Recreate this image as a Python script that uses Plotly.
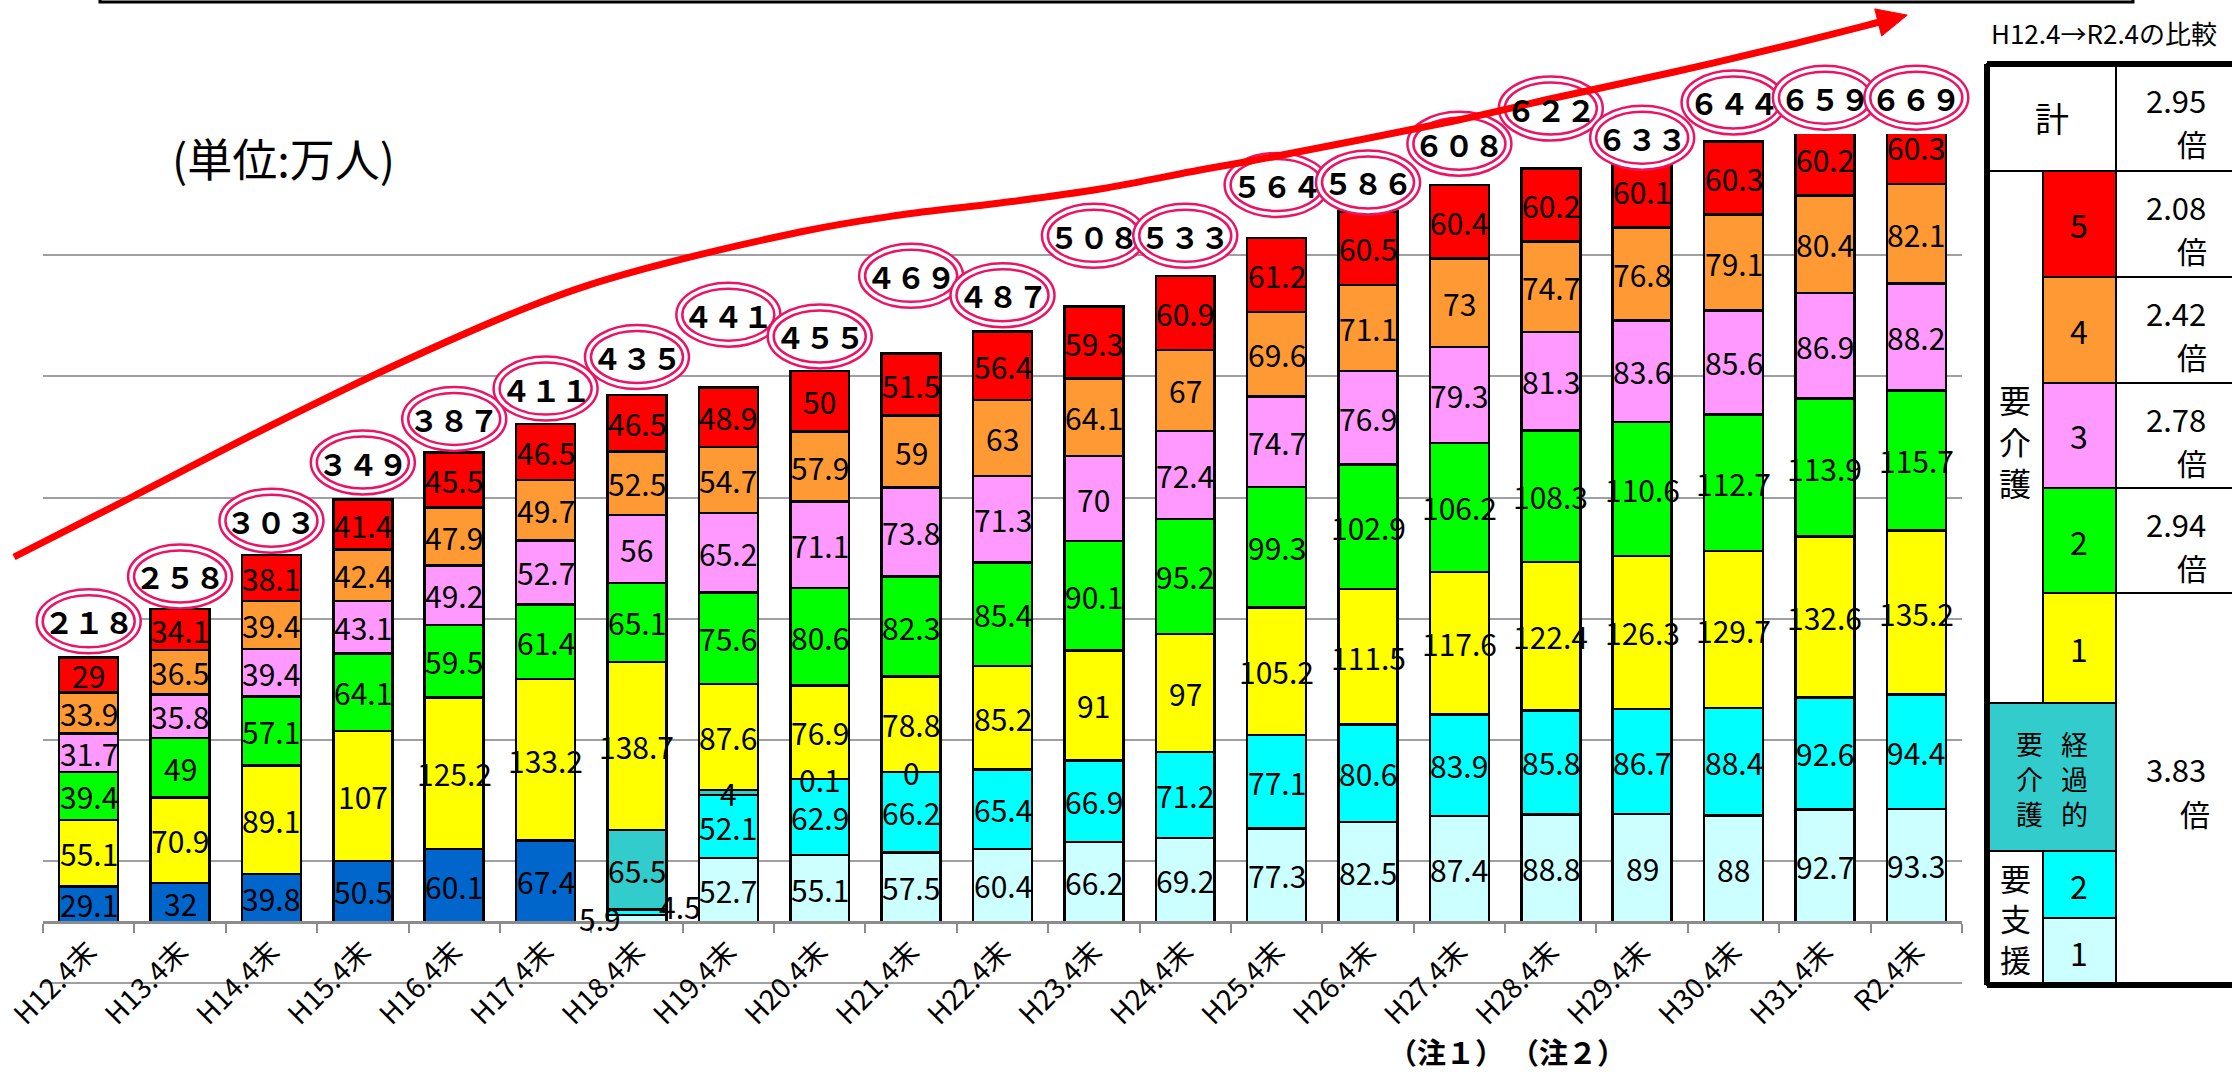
import plotly.graph_objects as go

# ---------------------------------------------------------------- data
categories = ["H12.4末", "H13.4末", "H14.4末", "H15.4末", "H16.4末", "H17.4末",
              "H18.4末", "H19.4末", "H20.4末", "H21.4末", "H22.4末", "H23.4末",
              "H24.4末", "H25.4末", "H26.4末", "H27.4末", "H28.4末", "H29.4末",
              "H30.4末", "H31.4末", "R2.4末"]

# 要支援 (before the H18 reform)
yoshien_old = [29.1, 32, 39.8, 50.5, 60.1, 67.4] + [None] * 15
yoshien_1 = [None] * 6 + [5.9, 52.7, 55.1, 57.5, 60.4, 66.2, 69.2, 77.3, 82.5,
                          87.4, 88.8, 89, 88, 92.7, 93.3]
yoshien_2 = [None] * 6 + [4.5, 52.1, 62.9, 66.2, 65.4, 66.9, 71.2, 77.1, 80.6,
                          83.9, 85.8, 86.7, 88.4, 92.6, 94.4]
keikateki = [None] * 6 + [65.5, 4, 0.1, 0] + [None] * 11
kaigo_1 = [55.1, 70.9, 89.1, 107, 125.2, 133.2, 138.7, 87.6, 76.9, 78.8, 85.2,
           91, 97, 105.2, 111.5, 117.6, 122.4, 126.3, 129.7, 132.6, 135.2]
kaigo_2 = [39.4, 49, 57.1, 64.1, 59.5, 61.4, 65.1, 75.6, 80.6, 82.3, 85.4,
           90.1, 95.2, 99.3, 102.9, 106.2, 108.3, 110.6, 112.7, 113.9, 115.7]
kaigo_3 = [31.7, 35.8, 39.4, 43.1, 49.2, 52.7, 56, 65.2, 71.1, 73.8, 71.3,
           70, 72.4, 74.7, 76.9, 79.3, 81.3, 83.6, 85.6, 86.9, 88.2]
kaigo_4 = [33.9, 36.5, 39.4, 42.4, 47.9, 49.7, 52.5, 54.7, 57.9, 59, 63,
           64.1, 67, 69.6, 71.1, 73, 74.7, 76.8, 79.1, 80.4, 82.1]
kaigo_5 = [29, 34.1, 38.1, 41.4, 45.5, 46.5, 46.5, 48.9, 50, 51.5, 56.4,
           59.3, 60.9, 61.2, 60.5, 60.4, 60.2, 60.1, 60.3, 60.2, 60.3]
totals = [218, 258, 303, 349, 387, 411, 435, 441, 455, 469, 487, 508, 533,
          564, 586, 608, 622, 633, 644, 659, 669]

# comparison table H12.4 -> R2.4
ratio_total = "2.95"
ratio_kaigo = ["2.08", "2.42", "2.78", "2.94"]          # 要介護5,4,3,2
ratio_light = "3.83"                                    # 要介護1+経過的+要支援

# ---------------------------------------------------------------- layout constants
W, H = 2232, 1072
PLOT_L, PLOT_R, PLOT_T, PLOT_B = 43, 1962, 134, 1072
YMAX = 650
PX_PER_UNIT = (922 - PLOT_T) / YMAX
YMIN = YMAX - (PLOT_B - PLOT_T) / PX_PER_UNIT
FONT = "Noto Sans CJK JP"

# vertical placement (value units) of the circled totals
badge_y = [248, 285, 331, 379, 415, 440, 466, 501, 483, 533, 517, 566, 566,
           608, 610, 642, 671, 647, 676, 680, 680]


def px_x(px):
    return (px - PLOT_L) / (PLOT_R - PLOT_L)


def px_y(py):
    return (PLOT_B - py) / (PLOT_B - PLOT_T)


def val_y(v):
    return (v - YMIN) / (YMAX - YMIN)


def cat_x(i):
    return (i + 0.5) / len(categories)


series = [
    ("要支援", yoshien_old, "#0066CC"),
    ("要支援1", yoshien_1, "#CCFFFF"),
    ("要支援2", yoshien_2, "#00FFFF"),
    ("経過的要介護", keikateki, "#33CCCC"),
    ("要介護1", kaigo_1, "#FFFF00"),
    ("要介護2", kaigo_2, "#00FF00"),
    ("要介護3", kaigo_3, "#FF99FF"),
    ("要介護4", kaigo_4, "#FF9933"),
    ("要介護5", kaigo_5, "#FF0000"),
]

fig = go.Figure()
for name, vals, color in series:
    fig.add_trace(go.Bar(
        x=categories, y=vals, name=name,
        marker=dict(color=color, line=dict(color="black", width=2.5)),
        hoverinfo="x+y+name",
    ))

annotations = []
shapes = []

# ---------------------------------------------------------------- segment labels
label_shift = {("要支援1", 6): (-37, 0), ("要支援2", 6): (43, 6)}
base = [0.0] * len(categories)
for name, vals, color in series:
    for i, v in enumerate(vals):
        if v is None:
            continue
        mid = base[i] + v / 2
        dx, dy = label_shift.get((name, i), (0, 0))
        annotations.append(dict(
            x=categories[i], y=mid, xref="x", yref="y", text=f"{v:g}",
            showarrow=False, xshift=dx, yshift=dy,
            xanchor="center", yanchor="middle",
            font=dict(family=FONT, size=30, color="black"),
        ))
        base[i] += v

# ---------------------------------------------------------------- circled totals
RING = "#EB1464"
for i, t in enumerate(totals):
    cx, cy = cat_x(i), val_y(badge_y[i])
    for hw, hh, fill in ((52, 32, "white"), (46, 26, "rgba(0,0,0,0)")):
        shapes.append(dict(
            type="circle", xref="paper", yref="paper",
            x0=cx - hw / (PLOT_R - PLOT_L), x1=cx + hw / (PLOT_R - PLOT_L),
            y0=cy - hh / (PLOT_B - PLOT_T), y1=cy + hh / (PLOT_B - PLOT_T),
            line=dict(color=RING, width=2.5), fillcolor=fill, layer="above",
        ))
    full = str(t).translate(str.maketrans("0123456789", "０１２３４５６７８９"))
    annotations.append(dict(
        x=cx, y=cy, xref="paper", yref="paper", text=full, showarrow=False,
        xanchor="center", yanchor="middle",
        font=dict(family=FONT, size=30, color="black", weight="bold"),
    ))

# ---------------------------------------------------------------- red trend arrow
trend_arrow_px = [(14, 557), (134, 496), (268, 427), (402, 362), (536, 304),
                  (644, 269), (800, 232), (900, 215), (1000, 203), (1100, 189),
                  (1200, 170), (1272, 157), (1444, 123), (1559, 97), (1674, 72),
                  (1789, 45), (1884, 21)]


def smooth_path(pts):
    d = "M {:.5f},{:.5f}".format(px_x(pts[0][0]), px_y(pts[0][1]))
    n = len(pts)
    for k in range(n - 1):
        p0 = pts[k - 1] if k > 0 else pts[k]
        p1, p2 = pts[k], pts[k + 1]
        p3 = pts[k + 2] if k + 2 < n else pts[k + 1]
        c1 = (p1[0] + (p2[0] - p0[0]) / 6, p1[1] + (p2[1] - p0[1]) / 6)
        c2 = (p2[0] - (p3[0] - p1[0]) / 6, p2[1] - (p3[1] - p1[1]) / 6)
        d += " C {:.5f},{:.5f} {:.5f},{:.5f} {:.5f},{:.5f}".format(
            px_x(c1[0]), px_y(c1[1]), px_x(c2[0]), px_y(c2[1]),
            px_x(p2[0]), px_y(p2[1]))
    return d


shapes.append(dict(type="path", xref="paper", yref="paper",
                   path=smooth_path(trend_arrow_px),
                   line=dict(color="#FF0000", width=7), layer="above"))

# arrow head along the last segment direction
(ax0, ay0), (ax1, ay1) = trend_arrow_px[-2], trend_arrow_px[-1]
ln = ((ax1 - ax0) ** 2 + (ay1 - ay0) ** 2) ** 0.5
ux, uy = (ax1 - ax0) / ln, (ay1 - ay0) / ln
tip = (ax1 + ux * 24, ay1 + uy * 24)
back = (ax1 - ux * 6, ay1 - uy * 6)
left = (back[0] - uy * 14, back[1] + ux * 14)
right = (back[0] + uy * 14, back[1] - ux * 14)
head = "M {} L {} L {} Z".format(
    *["{:.5f},{:.5f}".format(px_x(p[0]), px_y(p[1])) for p in (tip, left, right)])
shapes.append(dict(type="path", xref="paper", yref="paper", path=head,
                   fillcolor="#FF0000", line=dict(color="#FF0000", width=1),
                   layer="above"))

# ---------------------------------------------------------------- frame line at the top
shapes.append(dict(type="rect", xref="paper", yref="paper",
                   x0=px_x(100), x1=px_x(2133), y0=px_y(2), y1=px_y(-30),
                   line=dict(color="black", width=3), fillcolor="rgba(0,0,0,0)"))

# ---------------------------------------------------------------- comparison table
TX = [1987, 2043, 2116, 2260]
TY = [64, 171, 277, 383, 488, 593, 703, 851, 918, 985]


def cell(x0, x1, y0, y1, fill="white", lw=2):
    shapes.append(dict(type="rect", xref="paper", yref="paper",
                       x0=px_x(x0), x1=px_x(x1), y0=px_y(y1), y1=px_y(y0),
                       fillcolor=fill, line=dict(color="black", width=lw),
                       layer="above"))


def text(px, py, s, size, weight="normal", color="black", family=FONT,
         box_h=None):
    ann = dict(x=px_x(px), y=px_y(py), xref="paper", yref="paper",
               text=s, showarrow=False, xanchor="center", yanchor="middle",
               font=dict(family=family, size=size, color=color, weight=weight))
    if box_h is not None:
        ann.update(height=box_h, borderpad=0, valign="middle")
    annotations.append(ann)


def vtext(px, py, s, size):
    # vertical writing: one character per line
    text(px, py, "<br>".join(s), size)


cell(TX[0], TX[2], TY[0], TY[1])                       # 計
cell(TX[2], TX[3], TY[0], TY[1])
cell(TX[0], TX[1], TY[1], TY[6])                       # 要介護 label
level_cols = ["#FF0000", "#FF9933", "#FF99FF", "#00FF00", "#FFFF00"]
for k, col in enumerate(level_cols):
    cell(TX[1], TX[2], TY[1 + k], TY[2 + k], fill=col)
for k in range(4):
    cell(TX[2], TX[3], TY[1 + k], TY[2 + k])
cell(TX[2], TX[3], TY[5], TY[9])                       # merged light-care value
cell(TX[0], TX[2], TY[6], TY[7], fill="#33CCCC")       # 経過的要介護
cell(TX[0], TX[1], TY[7], TY[9])                       # 要支援 label
cell(TX[1], TX[2], TY[7], TY[8], fill="#00FFFF")
cell(TX[1], TX[2], TY[8], TY[9], fill="#CCFFFF")
# thick outer border
for x0, y0, x1, y1 in ((TX[0], TY[0], TX[3], TY[0]), (TX[0], TY[9], TX[3], TY[9]),
                       (TX[0], TY[0], TX[0], TY[9])):
    shapes.append(dict(type="line", xref="paper", yref="paper",
                       x0=px_x(x0), x1=px_x(x1), y0=px_y(y0), y1=px_y(y1),
                       line=dict(color="black", width=6), layer="above"))

text(2104, 32, "H12.4→R2.4の比較", 26)
text((TX[0] + TX[2]) / 2, (TY[0] + TY[1]) / 2, "計", 34)
for k, (lvl, r) in enumerate(zip(["5", "4", "3", "2"], ratio_kaigo)):
    text(2079, (TY[1 + k] + TY[2 + k]) / 2, lvl, 32)
    text(2176, TY[1 + k] + 35, r, 31, box_h=40)
    text(2192, TY[1 + k] + 79, "倍", 30, box_h=40)
text(2079, (TY[5] + TY[6]) / 2, "1", 32)
text(2176, TY[0] + 35, ratio_total, 31, box_h=40)
text(2192, TY[0] + 79, "倍", 30, box_h=40)
text(2176, 768, ratio_light, 31, box_h=40)
text(2195, 813, "倍", 30, box_h=40)
text(2079, (TY[7] + TY[8]) / 2, "2", 32, box_h=44)
text(2079, (TY[8] + TY[9]) / 2, "1", 32, box_h=44)
vtext(2015, 440, "要介護", 32)
vtext(2074, 778, "経過的", 27)
vtext(2029, 778, "要介護", 27)
vtext(2015, 918, "要支援", 31)

# ---------------------------------------------------------------- other notes
text(283, 157, "(単位:万人)", 45)
for cat, note, dx in (("H27.4末", "（注１）", -13), ("H28.4末", "（注２）", 17)):
    annotations.append(dict(x=cat, y=-106, xref="x", yref="y", text=note,
                            showarrow=False, xanchor="center", yanchor="middle",
                            xshift=dx,
                            font=dict(family=FONT, size=29, color="black",
                                      weight="bold")))

fig.update_layout(
    width=W, height=H,
    margin=dict(l=PLOT_L, r=W - PLOT_R, t=PLOT_T, b=H - PLOT_B, pad=0),
    barmode="stack", bargap=0.355, showlegend=False,
    plot_bgcolor="white", paper_bgcolor="white",
    font=dict(family=FONT, color="black"),
    xaxis=dict(
        type="category", anchor="free", position=val_y(0),
        showline=True, linecolor="#8C8C8C", linewidth=3,
        ticks="outside", tickson="boundaries", ticklen=9, tickwidth=2,
        tickcolor="#8C8C8C", tickangle=-45,
        tickfont=dict(family=FONT, size=28, color="black"),
        showgrid=False, fixedrange=True,
    ),
    yaxis=dict(
        range=[YMIN, YMAX], tick0=-50, dtick=100, showgrid=True,
        gridcolor="#A0A0A0", gridwidth=2, zeroline=False,
        showticklabels=False, ticks="", showline=False, fixedrange=True,
    ),
    shapes=shapes, annotations=annotations,
)

fig.write_html("out.html")
